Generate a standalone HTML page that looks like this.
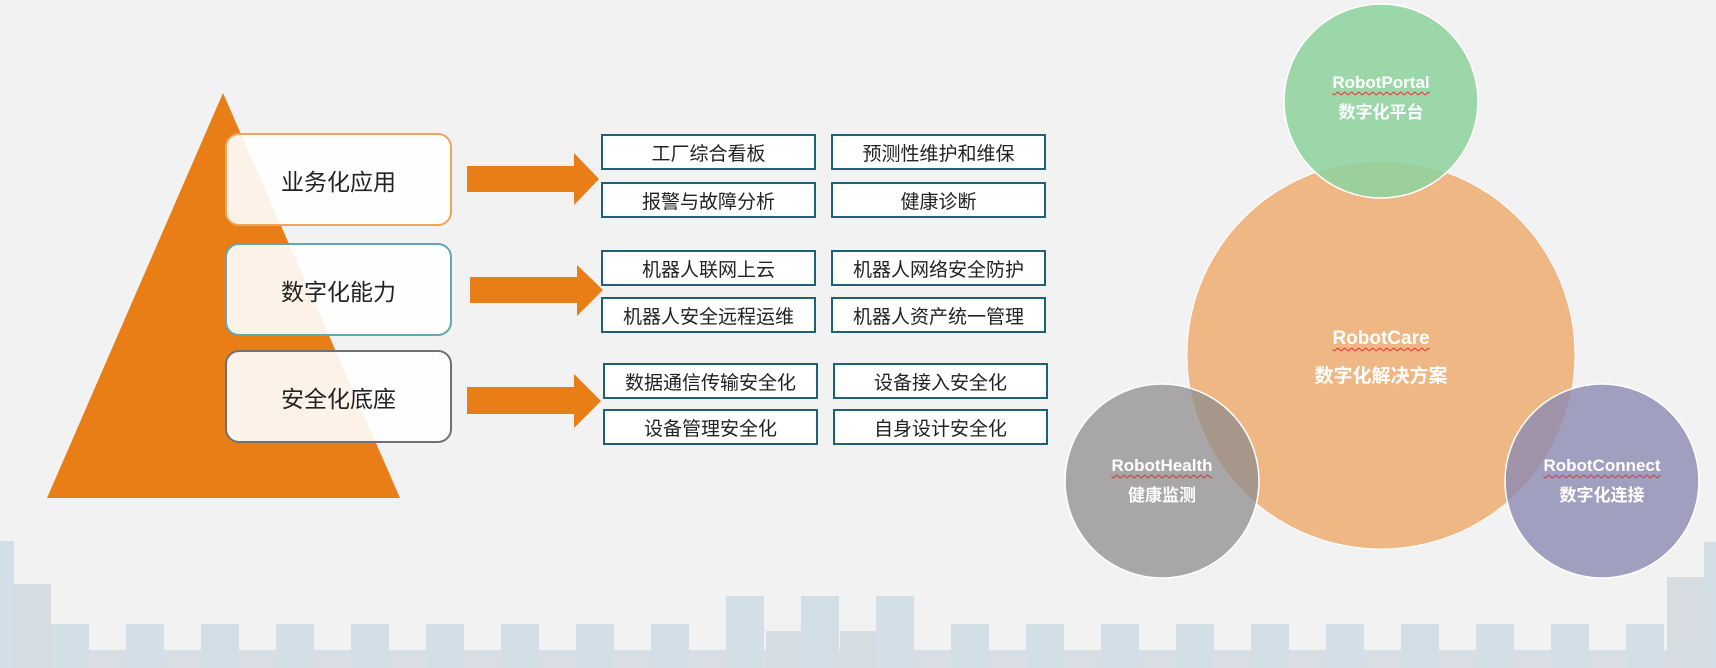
<!DOCTYPE html>
<html><head><meta charset="utf-8"><style>
body{margin:0;width:1716px;height:668px;background:#f2f2f2;position:relative;overflow:hidden;font-family:"Liberation Sans","Noto Sans CJK SC",sans-serif}
.a{position:absolute}
.big{position:absolute;left:225px;width:227px;height:93px;border-radius:14px;background:rgba(255,255,255,0.9);border:2px solid;display:flex;align-items:center;justify-content:center;font-size:23px;color:#222;box-sizing:border-box}
.sb{position:absolute;width:215px;height:36px;border:2px solid #1f6174;background:#fff;box-sizing:border-box;display:flex;align-items:center;justify-content:center;font-size:19px;color:#222}
.t{position:absolute;color:#fff;font-weight:bold;text-align:center;font-size:17px;line-height:30px}
.t u{text-decoration:underline wavy #e03030 1px;text-underline-offset:3px}
</style></head><body>
<svg class="a" style="left:0;top:0" width="1716" height="668">
<polygon points="223,93 47,498 400,498" fill="#e97e17"/>
<g fill="#e97e17">
<polygon points="467,166 574,166 574,153 599,179 574,205 574,192 467,192"/>
<polygon points="470,277 577,277 577,265 603,290 577,316 577,303 470,303"/>
<polygon points="467,387 574,387 574,374 601,401 574,428 574,414 467,414"/>
</g>
<g fill="#d8dee3"><rect x="0" y="650" width="1716" height="18"/></g>
<g fill="#d3dfe6">
<rect x="0" y="541" width="14" height="127"/>
<rect x="14" y="584" width="37" height="84" fill="#d6dde2"/>
<rect x="1667" y="577" width="37" height="91" fill="#d6dde2"/>
<rect x="1704" y="542" width="12" height="126"/>
<rect x="766" y="631" width="36" height="37" fill="#d6dde2"/>
<rect x="840" y="631" width="36" height="37" fill="#d6dde2"/>
</g>
<g fill="#d3dfe6" id="sq"></g>
<circle cx="1381" cy="355" r="194" fill="#efb783" stroke="#fff" stroke-width="1"/>
<circle cx="1381" cy="101" r="97" fill="#8fd39f" fill-opacity="0.88" stroke="#fff" stroke-width="1.5"/>
<circle cx="1162" cy="481" r="97" fill="#8f8c8c" fill-opacity="0.75" stroke="#fff" stroke-width="1.5"/>
<circle cx="1602" cy="481" r="97" fill="#8c8ab3" fill-opacity="0.8" stroke="#fff" stroke-width="1.5"/>
</svg>
<div class="big" style="top:133px;border-color:#f0a55c">业务化应用</div>
<div class="big" style="top:243px;border-color:#62a7b4">数字化能力</div>
<div class="big" style="top:350px;border-color:#707070">安全化底座</div>
<div class="sb" style="left:601px;top:134px">工厂综合看板</div>
<div class="sb" style="left:831px;top:134px">预测性维护和维保</div>
<div class="sb" style="left:601px;top:182px">报警与故障分析</div>
<div class="sb" style="left:831px;top:182px">健康诊断</div>
<div class="sb" style="left:601px;top:250px">机器人联网上云</div>
<div class="sb" style="left:831px;top:250px">机器人网络安全防护</div>
<div class="sb" style="left:601px;top:297px">机器人安全远程运维</div>
<div class="sb" style="left:831px;top:297px">机器人资产统一管理</div>
<div class="sb" style="left:603px;top:363px">数据通信传输安全化</div>
<div class="sb" style="left:833px;top:363px">设备接入安全化</div>
<div class="sb" style="left:603px;top:409px">设备管理安全化</div>
<div class="sb" style="left:833px;top:409px">自身设计安全化</div>
<div class="t" style="left:1281px;top:68px;width:200px"><u>RobotPortal</u><br>数字化平台</div>
<div class="t" style="left:1261px;top:320px;width:240px;font-size:19px;line-height:38px"><u>RobotCare</u><br>数字化解决方案</div>
<div class="t" style="left:1062px;top:451px;width:200px"><u>RobotHealth</u><br>健康监测</div>
<div class="t" style="left:1502px;top:451px;width:200px"><u>RobotConnect</u><br>数字化连接</div>
<script>
var g=document.getElementById('sq'),s='';
for(var k=0;k<22;k++){var x=51+75*k,y=(k>=9&&k<=11)?596:624;s+='<rect x="'+x+'" y="'+y+'" width="38" height="'+(668-y)+'"/>';}
g.innerHTML=s;
</script>
</body></html>
